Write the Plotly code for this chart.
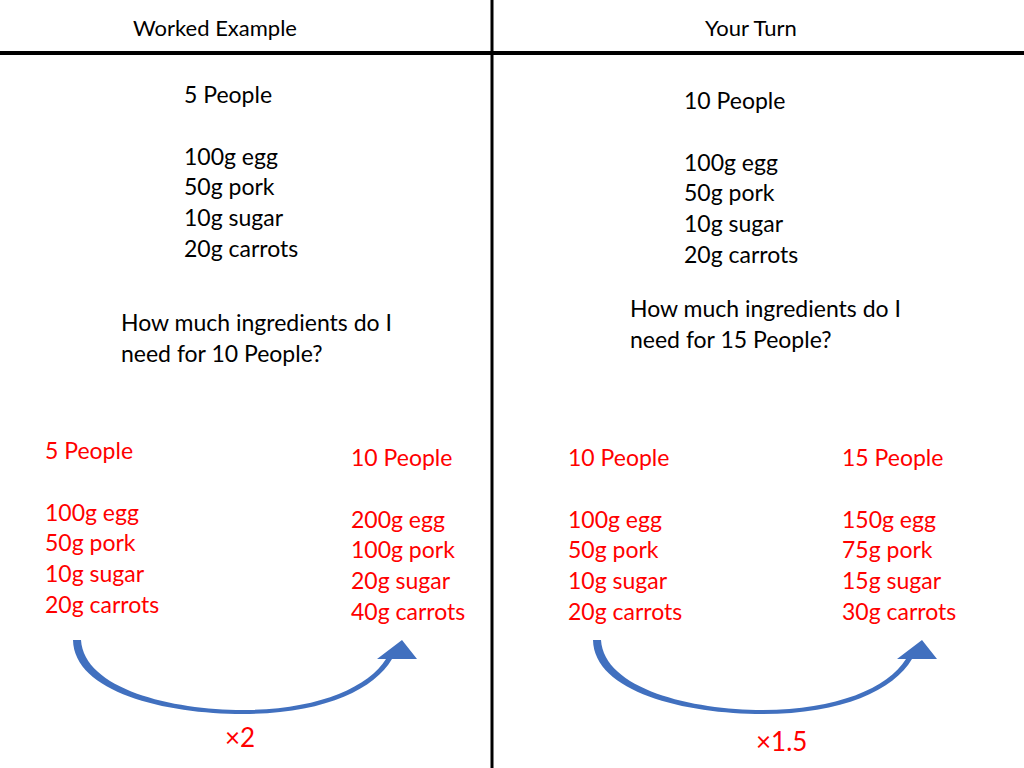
import plotly.graph_objects as go

# ---- data ----
headers = ["Worked Example", "Your Turn"]
items = ["egg", "pork", "sugar", "carrots"]
we_people = 5
we_amounts = [100, 50, 10, 20]
we_target = 10
we_target_amounts = [200, 100, 20, 40]
we_factor = "×2"
yt_people = 10
yt_amounts = [100, 50, 10, 20]
yt_target = 15
yt_target_amounts = [150, 75, 15, 30]
yt_factor = "×1.5"

FONT = "Lato"
FS = 23
RED = "#FF0000"
BLUE = "#4170BF"

fig = go.Figure()
fig.add_trace(go.Scatter(x=[0], y=[0], mode="markers", marker=dict(opacity=0), hoverinfo="skip", showlegend=False))

ann = []


def txt(x, y, s, color="black", size=FS, anchor="left"):
    ann.append(dict(x=x - (2 if anchor == "left" else 0), y=y, text=s, showarrow=False,
                    xanchor=anchor, yanchor="middle",
                    font=dict(family=FONT, size=size, color=color)))


def block(x, y0, people, amounts, color, gap=61.5, step=30.7):
    txt(x, y0, f"{people} People", color)
    for i, (a, name) in enumerate(zip(amounts, items)):
        txt(x, y0 + gap + i * step, f"{a}g {name}", color)


# headers
txt(215, 27, headers[0], size=22, anchor="center")
txt(751, 27, headers[1], size=22, anchor="center")

# black blocks
block(184, 94, we_people, we_amounts, "black")
txt(121, 322, "How much ingredients do I")
txt(121, 353, f"need for {we_target} People?")
block(684, 100, yt_people, yt_amounts, "black")
txt(630, 308, "How much ingredients do I")
txt(630, 339, f"need for {yt_target} People?")

# red blocks
block(45, 450, we_people, we_amounts, RED)
block(351, 457, we_target, we_target_amounts, RED)
block(568, 457, yt_people, yt_amounts, RED)
block(842, 457, yt_target, yt_target_amounts, RED)

txt(240, 737, we_factor, RED, size=26, anchor="center")
txt(781, 741, yt_factor, RED, size=26, anchor="center")

shapes = [
    dict(type="line", x0=492, x1=492, y0=0, y1=768, line=dict(color="black", width=3)),
    dict(type="line", x0=0, x1=1024, y0=53, y1=53, line=dict(color="black", width=4)),
]


def arrow(dx):
    p = lambda x, y: f"{x + dx},{y}"
    path = (f"M {p(73,640)} C {p(74,692)} {p(165,714)} {p(243,714)} "
            f"C {p(322,714)} {p(374,690)} {p(392,659)} "
            f"L {p(417,659)} L {p(402,640)} L {p(377,659)} L {p(386,659)} "
            f"C {p(368,688)} {p(316,710)} {p(243,710)} "
            f"C {p(172,710)} {p(84,689)} {p(81,640)} Z")
    return dict(type="path", path=path, fillcolor=BLUE, line=dict(color=BLUE, width=0))


shapes.append(arrow(0))
shapes.append(arrow(520))

fig.update_layout(
    width=1024, height=768, margin=dict(l=0, r=0, t=0, b=0),
    paper_bgcolor="white", plot_bgcolor="white",
    xaxis=dict(range=[0, 1024], visible=False, fixedrange=True),
    yaxis=dict(range=[768, 0], visible=False, fixedrange=True),
    annotations=ann, shapes=shapes, showlegend=False,
)
fig.write_html("out.html", config={"displayModeBar": False},
               post_script="document.body.style.margin='0';document.body.style.overflow='hidden';")
